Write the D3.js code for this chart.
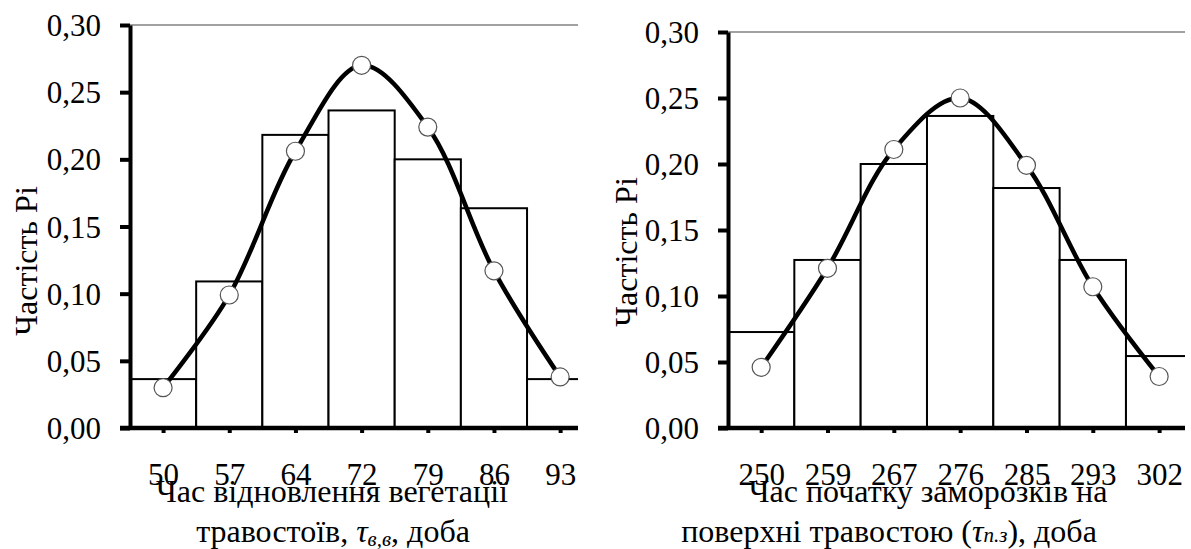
<!DOCTYPE html>
<html>
<head>
<meta charset="utf-8">
<script src="https://cdn.jsdelivr.net/npm/d3@7"></script>
</head>
<body style="margin:0;background:#fff">
<svg id="chart" width="1191" height="549"></svg>
<script>
// ---- data ----
const yTickValues = [0, 0.05, 0.10, 0.15, 0.20, 0.25, 0.30];
const yTickLabels = ["0,00", "0,05", "0,10", "0,15", "0,20", "0,25", "0,30"];
const yTitle = "Частість Рі";

// left chart: time of vegetation renewal
const leftCategories = ["50", "57", "64", "72", "79", "86", "93"];
const leftBars = [0.0364, 0.1091, 0.2182, 0.2364, 0.2000, 0.1636, 0.0364];
const leftPoints = [0.030, 0.099, 0.206, 0.270, 0.224, 0.117, 0.038];

// right chart: start of frosts
const rightCategories = ["250", "259", "267", "276", "285", "293", "302"];
const rightBars = [0.0727, 0.1273, 0.2000, 0.2364, 0.1818, 0.1273, 0.0545];
const rightPoints = [0.046, 0.121, 0.211, 0.250, 0.199, 0.107, 0.039];

const FONT = "Liberation Serif";
const svg = d3.select("#chart");

function setFont(sel, size) {
  return sel.attr("font-family", FONT).style("font-family", "'Liberation Serif'").attr("font-size", size);
}

function drawPanel(cfg) {
  const g = svg.append("g");
  const x = d3.scaleLinear().domain([0, cfg.xMax]).range([cfg.left, cfg.right]);
  const y = d3.scaleLinear().domain([0, 0.30]).range([cfg.bottom, cfg.top]);
  const clipId = "clip" + cfg.id;
  svg.append("clipPath").attr("id", clipId)
    .append("rect")
    .attr("x", cfg.left).attr("y", 0)
    .attr("width", cfg.right - cfg.left).attr("height", cfg.bottom);

  // top frame line
  g.append("line")
    .attr("x1", cfg.left).attr("x2", cfg.right)
    .attr("y1", y(0.30)).attr("y2", y(0.30))
    .attr("stroke", "#444").attr("stroke-width", 1.2);

  // histogram bars
  g.append("g").attr("clip-path", `url(#${clipId})`)
    .selectAll("rect").data(cfg.bars).join("rect")
    .attr("x", (d, i) => x(i))
    .attr("width", (d, i) => x(i + 1) - x(i))
    .attr("y", d => y(d))
    .attr("height", d => y(0) - y(d))
    .attr("fill", "#fff").attr("stroke", "#000").attr("stroke-width", 2);

  // smooth curve
  const line = d3.line()
    .x((d, i) => x(i + 0.5))
    .y(d => y(d))
    .curve(d3.curveCatmullRom.alpha(0.5));
  g.append("path").datum(cfg.points)
    .attr("d", line)
    .attr("fill", "none").attr("stroke", "#000").attr("stroke-width", 4.5)
    .attr("stroke-linecap", "round");

  // markers
  g.append("g").selectAll("circle").data(cfg.points).join("circle")
    .attr("cx", (d, i) => x(i + 0.5))
    .attr("cy", d => y(d))
    .attr("r", 9)
    .attr("fill", "#fff").attr("stroke", "#555").attr("stroke-width", 1.2);

  // y axis
  const yAxis = d3.axisLeft(y)
    .tickValues(yTickValues)
    .tickFormat((d, i) => yTickLabels[i])
    .tickSize(10).tickSizeOuter(0).tickPadding(19);
  const ya = g.append("g").attr("transform", `translate(${cfg.left},0)`).call(yAxis);
  ya.attr("font-family", null).attr("font-size", null);
  ya.select(".domain").attr("stroke", "#000").attr("stroke-width", 4);
  ya.selectAll(".tick line").attr("stroke", "#000").attr("stroke-width", 4);
  setFont(ya.selectAll(".tick text"), 31).attr("fill", "#000").attr("dy", "0.34em");

  // x axis
  const xAxis = d3.axisBottom(x)
    .tickValues(cfg.categories.map((c, i) => i + 0.5))
    .tickFormat((d, i) => cfg.categories[i])
    .tickSize(5).tickSizeOuter(0);
  const xa = g.append("g").attr("transform", `translate(0,${cfg.bottom})`).call(xAxis);
  xa.attr("font-family", null).attr("font-size", null);
  xa.select(".domain").remove();
  xa.selectAll(".tick line").attr("stroke", "#000").attr("stroke-width", 4);
  setFont(xa.selectAll(".tick text"), 31).attr("fill", "#000").attr("y", 57).attr("dy", 0);
  g.append("line")
    .attr("x1", cfg.left - 10).attr("x2", cfg.right)
    .attr("y1", cfg.bottom).attr("y2", cfg.bottom)
    .attr("stroke", "#000").attr("stroke-width", 4.5);

  // y title
  setFont(g.append("text")
    .attr("transform", `translate(${cfg.yTitleX},${cfg.yTitleY}) rotate(-90)`)
    .attr("text-anchor", "middle"), 32)
    .text(yTitle);

  // x title (two lines)
  setFont(g.append("text").attr("x", cfg.t1x).attr("y", 502)
    .attr("text-anchor", "middle"), 32)
    .text(cfg.title1);
  const t2 = setFont(g.append("text").attr("x", cfg.t2x).attr("y", 542)
    .attr("text-anchor", "middle"), 32);
  t2.append("tspan").text(cfg.title2a);
  t2.append("tspan").attr("font-style", "italic").text("τ");
  t2.append("tspan").attr("font-style", "italic").attr("font-size", 21)
    .attr("dy", cfg.subDy).text(cfg.sub);
  t2.append("tspan").attr("dy", -cfg.subDy).text(cfg.title2b);
}

drawPanel({
  id: "L", left: 130, right: 578, top: 25, bottom: 428, xMax: 6.77,
  categories: leftCategories, bars: leftBars, points: leftPoints,
  yTitleX: 37, yTitleY: 261,
  t1x: 332, t2x: 333,
  title1: "Час відновлення вегетації",
  title2a: "травостоїв, ", sub: "в,в", subDy: 4, title2b: ", доба"
});

drawPanel({
  id: "R", left: 728, right: 1185, top: 32, bottom: 428, xMax: 6.89,
  categories: rightCategories, bars: rightBars, points: rightPoints,
  yTitleX: 637, yTitleY: 252,
  t1x: 928, t2x: 889,
  title1: "Час початку заморозків на",
  title2a: "поверхні травостою (", sub: "п.з", subDy: 0, title2b: "), доба"
});
</script>
</body>
</html>
